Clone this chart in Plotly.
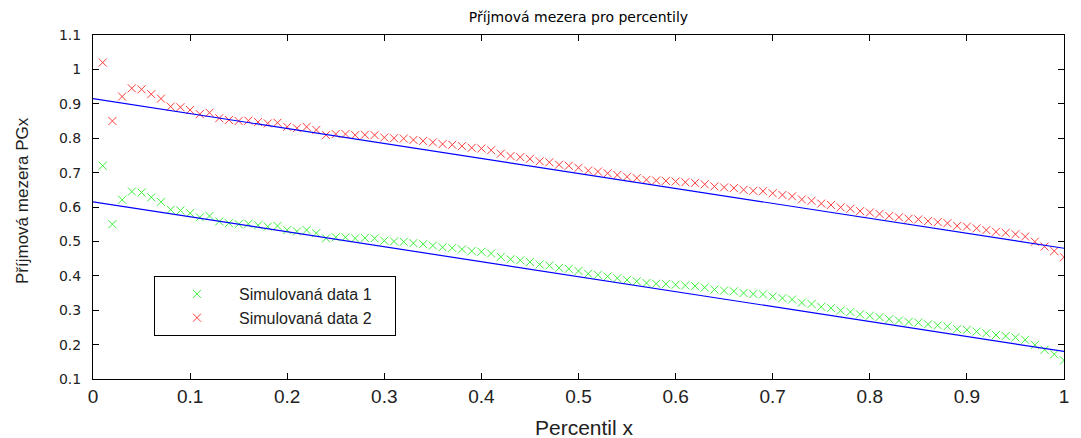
import plotly.graph_objects as go

percentiles = [round(0.01 * i, 2) for i in range(1, 101)]

data2 = [1.020, 0.850, 0.921, 0.945, 0.942, 0.928, 0.915, 0.892, 0.890, 0.882,
         0.870, 0.874, 0.858, 0.853, 0.850, 0.851, 0.847, 0.843, 0.845, 0.833,
         0.829, 0.833, 0.824, 0.809, 0.812, 0.812, 0.809, 0.810, 0.809, 0.802,
         0.800, 0.799, 0.795, 0.792, 0.788, 0.783, 0.781, 0.777, 0.772, 0.770,
         0.765, 0.755, 0.748, 0.745, 0.740, 0.733, 0.730, 0.723, 0.720, 0.714,
         0.706, 0.703, 0.698, 0.693, 0.688, 0.684, 0.679, 0.677, 0.676, 0.674,
         0.672, 0.670, 0.666, 0.660, 0.657, 0.655, 0.650, 0.647, 0.646, 0.640,
         0.635, 0.631, 0.622, 0.618, 0.610, 0.606, 0.599, 0.595, 0.588, 0.584,
         0.580, 0.574, 0.570, 0.566, 0.564, 0.559, 0.556, 0.553, 0.545, 0.543,
         0.538, 0.533, 0.528, 0.525, 0.521, 0.514, 0.499, 0.485, 0.472, 0.454]

data1 = [0.720, 0.550, 0.621, 0.645, 0.642, 0.628, 0.615, 0.592, 0.590, 0.582,
         0.570, 0.574, 0.558, 0.553, 0.550, 0.551, 0.547, 0.543, 0.545, 0.533,
         0.529, 0.533, 0.524, 0.509, 0.512, 0.512, 0.509, 0.510, 0.509, 0.502,
         0.500, 0.499, 0.495, 0.492, 0.488, 0.483, 0.481, 0.477, 0.472, 0.470,
         0.465, 0.455, 0.448, 0.445, 0.440, 0.433, 0.430, 0.423, 0.420, 0.414,
         0.406, 0.403, 0.398, 0.393, 0.388, 0.384, 0.379, 0.377, 0.376, 0.374,
         0.372, 0.370, 0.366, 0.360, 0.357, 0.355, 0.350, 0.347, 0.346, 0.340,
         0.335, 0.331, 0.322, 0.318, 0.310, 0.306, 0.299, 0.295, 0.288, 0.284,
         0.280, 0.274, 0.270, 0.266, 0.264, 0.259, 0.256, 0.253, 0.245, 0.243,
         0.238, 0.233, 0.228, 0.225, 0.221, 0.214, 0.199, 0.185, 0.172, 0.154]

fit_x = [0.0, 1.0]
fit1_y = [0.615, 0.180]
fit2_y = [0.915, 0.480]

x_ticks = [0, 0.1, 0.2, 0.3, 0.4, 0.5, 0.6, 0.7, 0.8, 0.9, 1]
x_ticklabels = ["0", "0.1", "0.2", "0.3", "0.4", "0.5", "0.6", "0.7", "0.8", "0.9", "1"]
y_ticks = [0.1, 0.2, 0.3, 0.4, 0.5, 0.6, 0.7, 0.8, 0.9, 1.0, 1.1]
y_ticklabels = ["0.1", "0.2", "0.3", "0.4", "0.5", "0.6", "0.7", "0.8", "0.9", "1", "1.1"]

GREEN = "rgb(60,240,60)"
RED = "rgb(255,60,60)"
BLUE = "rgb(0,0,255)"
PAD = "\u00a0\u00a0\u00a0\u00a0"

L, R, T, B = 93, 17, 35, 59
W, H = 1081, 438
PW, PH = W - L - R, H - T - B

fig = go.Figure()
fig.add_trace(go.Scatter(
    x=percentiles, y=data1, mode="markers", name="Simulovaná data 1" + PAD,
    marker=dict(symbol="x-thin", size=8, line=dict(color=GREEN, width=1), color=GREEN)))
fig.add_trace(go.Scatter(
    x=percentiles, y=data2, mode="markers", name="Simulovaná data 2" + PAD,
    marker=dict(symbol="x-thin", size=8, line=dict(color=RED, width=1), color=RED)))
fig.add_trace(go.Scatter(x=fit_x, y=fit1_y, mode="lines", showlegend=False,
                         line=dict(color=BLUE, width=1.2)))
fig.add_trace(go.Scatter(x=fit_x, y=fit2_y, mode="lines", showlegend=False,
                         line=dict(color=BLUE, width=1.2)))

axis_common = dict(showline=True, linecolor="black", linewidth=1, mirror="ticks",
                   ticks="inside", ticklen=6, tickcolor="black", showgrid=False,
                   zeroline=False, automargin=False)

fig.update_layout(
    width=W, height=H,
    margin=dict(l=L, r=R, t=T, b=B),
    paper_bgcolor="white", plot_bgcolor="white",
    font=dict(family="Liberation Sans, Arial, sans-serif", color="black"),
    title=dict(text="Příjmová mezera pro percentily", x=0.5, xref="paper",
               y=1 - 17 / H, yanchor="middle",
               font=dict(size=14, family="DejaVu Sans", color="black")),
    xaxis=dict(range=[0, 1], tickvals=x_ticks, ticktext=x_ticklabels,
               tickfont=dict(size=19, color="#222"), **axis_common),
    yaxis=dict(range=[0.1, 1.1], tickvals=y_ticks, ticktext=y_ticklabels,
               tickfont=dict(size=14, family="DejaVu Sans", color="#222"),
               ticklabelstandoff=8, **axis_common),
    legend=dict(x=(154 - L) / PW, y=(H - B - 276) / PH, xanchor="left", yanchor="top",
                bordercolor="black", borderwidth=1, bgcolor="white",
                font=dict(size=16, color="#222"), itemwidth=74,
                tracegroupgap=2),
    annotations=[
        dict(text="Percentil x", xref="paper", yref="paper",
             x=(584 - L) / PW, y=-(427 - (H - B)) / PH, xanchor="center", yanchor="middle",
             showarrow=False, font=dict(size=21, color="#222")),
        dict(text="Příjmová mezera PGx", xref="paper", yref="paper",
             x=(22 - L) / PW, y=(H - B - 201) / PH, xanchor="center", yanchor="middle",
             textangle=-90, showarrow=False, font=dict(size=17, color="#222")),
    ],
)

fig.write_html("out.html")
